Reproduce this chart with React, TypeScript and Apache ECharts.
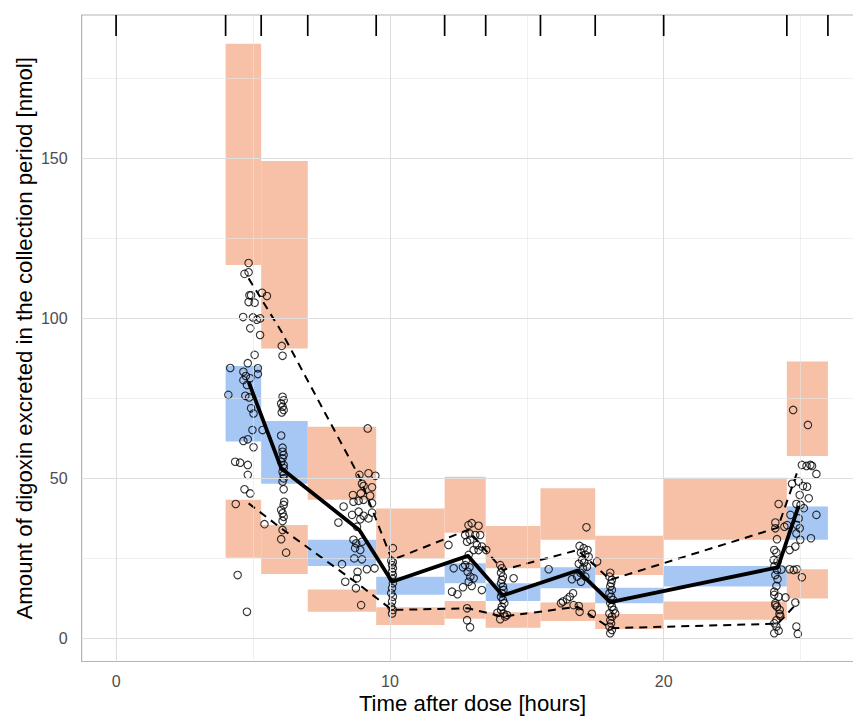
import React, { useEffect, useRef } from "react";
import * as echarts from "echarts";

// Bin boundaries (top rug ticks)
const binEdges = [0, 4, 5.3, 7, 9.5, 12, 13.5, 15.5, 17.5, 20, 24.5, 26];
const binStart = [4, 5.3, 7, 9.5, 12, 13.5, 15.5, 17.5, 20, 24.5];
const binEnd = [5.3, 7, 9.5, 12, 13.5, 15.5, 17.5, 20, 24.5, 26];

// Simulated prediction intervals
const upperPiHigh = [185.8, 149.2, 66.1, 40.6, 50.5, 35.1, 46.9, 32.1, 50.2, 86.5];
const upperPiLow = [116.7, 90.6, 43.3, 25.0, 33.0, 21.9, 30.8, 19.8, 30.8, 57.0];
const medianPiHigh = [85.1, 67.9, 30.8, 19.3, 23.5, 17.2, 22.2, 15.8, 22.6, 41.2];
const medianPiLow = [61.5, 48.3, 22.6, 13.6, 17.2, 11.7, 15.7, 11.0, 16.2, 30.8];
const lowerPiHigh = [43.3, 35.4, 15.3, 9.7, 11.7, 8.2, 11.2, 7.6, 11.5, 21.6];
const lowerPiLow = [25.2, 20.1, 8.3, 4.2, 6.1, 3.3, 5.4, 2.9, 5.8, 12.5];

// Observed percentiles
const obsBinTime = [4.84, 6.03, 8.89, 10.08, 12.85, 14.12, 16.86, 18.05, 24.17, 24.93];
const obsMedian = [80.2, 53.2, 33.8, 17.7, 25.8, 13.4, 21.2, 11.3, 22.2, 41.4];
const obsP95 = [112.5, 96.0, 50.4, 24.5, 33.9, 21.4, 27.6, 18.3, 34.6, 53.2];
const obsP05 = [42.2, 34.4, 16.7, 8.9, 9.4, 6.8, 9.9, 3.2, 4.6, 11.5];

// Observations
const obsTime = [
  4.84, 4.69, 4.84, 4.87, 4.93, 5.33, 5.51, 4.84, 5.06, 4.64, 5.0, 5.14, 5.26, 4.9, 5.26, 5.06, 4.81, 4.17, 4.65, 5.18,
  4.74, 4.9, 5.18, 4.65, 4.78, 4.1, 4.72, 4.86, 4.93, 5.02, 4.98, 5.35, 4.65, 4.81, 5.02, 4.35, 4.53, 4.81, 4.81, 4.69,
  4.9, 4.37, 5.42, 4.44, 4.78,
  6.05, 6.08, 6.08, 6.12, 6.03, 6.08, 6.12, 6.05, 6.03, 6.08, 6.08, 6.12, 6.08, 6.03, 6.12, 6.12, 6.08, 6.12, 6.12, 6.08,
  6.12, 6.14, 6.12, 6.03, 6.08, 6.12, 6.08, 6.08, 6.03, 6.21,
  9.19, 8.89, 9.22, 9.47, 8.98, 9.04, 9.35, 8.65, 8.94, 9.28, 8.67, 8.86, 9.04, 9.35, 8.31, 8.62, 8.86, 9.04, 9.35, 8.12,
  8.92, 9.22, 8.8, 8.67, 8.77, 8.98, 8.73, 8.92, 8.7, 8.98, 9.16, 9.44, 8.25, 8.82, 8.8, 8.37, 8.76, 8.95,
  10.11, 10.05, 10.11, 10.08, 10.11, 10.08, 10.11, 10.08, 10.11, 10.08, 10.05, 10.11, 10.08, 10.05, 10.11, 10.08,
  12.14, 12.27, 12.47, 12.33, 12.67, 12.67, 12.99, 12.82, 12.93, 12.87, 12.99, 13.24, 12.75, 12.91, 13.12, 13.3, 12.82, 12.94,
  13.18, 13.36, 13.52, 13.06, 13.24, 12.88, 12.79, 12.75, 12.91, 12.84, 12.94, 13.06, 12.88, 13.36, 12.82,
  14.03, 14.09, 14.06, 14.13, 14.09, 14.06, 14.13, 14.15, 14.09, 14.06, 14.13, 14.18, 14.09, 14.06, 14.15, 14.21, 14.03, 13.93,
  14.28, 14.52,
  15.8, 17.18, 16.93, 17.08, 17.22, 16.98, 17.14, 17.26, 17.02, 17.1, 16.9, 17.2, 17.05, 16.96, 16.84, 17.14, 16.65, 16.98,
  16.69, 16.57, 16.47, 16.32, 16.25, 16.71, 16.9, 16.93, 17.38, 17.57,
  18.05, 18.02, 18.11, 18.08, 18.05, 18.11, 18.02, 18.08, 18.15, 18.05, 18.11, 18.17, 18.02, 18.11, 18.05, 18.08, 18.02, 18.11,
  18.05, 18.23,
  24.2, 24.08, 24.41, 24.04, 24.12, 24.02, 24.16, 24.05, 24.14, 24.08, 24.16, 24.12, 24.04, 24.2, 24.08, 24.14, 24.24, 24.26,
  24.12, 24.04, 24.2, 24.04, 24.14, 24.45, 24.3, 24.23, 24.12, 24.08, 24.04, 24.08,
  24.73, 25.27, 25.05, 25.22, 25.36, 25.42, 25.58, 24.69, 24.93, 25.09, 25.24, 24.97, 25.3, 24.85, 25.0, 25.12, 24.63, 25.58,
  24.93, 24.51, 24.87, 24.97, 24.85, 24.6, 24.81, 25.38, 24.99, 24.6, 24.75, 24.87, 25.05, 24.81, 24.85, 24.9,
];
const obsAmount = [
  117.3, 113.9, 114.4, 107.2, 107.2, 108.0, 107.0, 105.1, 104.9, 100.4, 100.3, 99.6, 100.0, 96.9, 94.8, 88.6, 86.0, 84.5, 83.3, 84.4,
  82.0, 81.3, 82.6, 80.7, 79.2, 76.1, 75.8, 75.3, 71.9, 70.3, 65.1, 65.1, 61.7, 62.2, 59.7, 55.2, 54.9, 54.2, 51.1, 46.6,
  45.3, 42.0, 35.7, 19.8, 8.3,
  91.4, 88.3, 75.5, 74.4, 73.4, 72.4, 71.4, 70.6, 63.4, 59.6, 58.3, 57.3, 56.3, 55.2, 54.2, 53.2, 52.1, 51.1, 50.0, 49.0,
  46.6, 42.7, 41.7, 40.1, 39.1, 38.0, 36.7, 33.9, 31.0, 26.8,
  65.6, 51.1, 51.6, 50.8, 48.3, 47.6, 47.2, 44.8, 45.3, 44.6, 42.7, 43.0, 43.3, 42.2, 41.2, 38.6, 39.6, 38.3, 39.3, 36.2,
  37.2, 37.5, 34.9, 30.8, 29.7, 30.2, 28.2, 27.6, 25.0, 24.7, 21.6, 21.9, 23.2, 20.8, 18.8, 17.7, 15.7, 10.4,
  28.2, 24.3, 23.8, 22.9, 21.9, 20.8, 19.8, 18.8, 17.2, 15.7, 14.1, 13.0, 11.5, 9.9, 8.9, 7.8,
  29.2, 14.6, 13.8, 21.9, 22.2, 16.0, 16.4, 5.7, 3.5, 35.4, 36.0, 35.2, 32.3, 32.8, 32.3, 32.3, 30.2, 30.8,
  29.2, 28.7, 27.6, 27.6, 27.6, 26.1, 24.5, 22.9, 22.2, 20.8, 19.3, 18.8, 17.7, 15.1, 9.4,
  22.9, 21.9, 20.5, 19.3, 18.3, 17.2, 16.2, 15.1, 14.1, 13.0, 12.0, 11.0, 9.9, 8.9, 7.8, 6.8, 6.0, 8.0,
  7.3, 18.8,
  21.6, 34.7, 28.9, 28.2, 27.6, 26.8, 26.1, 25.5, 24.5, 23.7, 23.3, 22.4, 21.9, 20.5, 19.3, 19.3, 18.5, 17.7,
  14.1, 13.0, 12.2, 11.5, 11.0, 10.4, 10.1, 8.3, 7.7, 24.0,
  20.5, 19.3, 18.3, 17.2, 16.2, 15.1, 14.1, 13.0, 12.0, 11.0, 9.9, 8.9, 7.8, 6.8, 5.7, 4.7, 3.7, 2.6,
  1.6, 7.8,
  42.0, 36.2, 34.9, 27.6, 26.8, 24.5, 24.0, 22.6, 21.4, 19.8, 18.5, 16.4, 13.6, 13.0, 11.0, 9.9, 8.9, 7.0,
  5.7, 1.6, 2.4, 4.7, 31.0, 12.8, 21.5, 7.6, 3.7, 10.4, 14.6, 34.4,
  71.4, 66.7, 54.2, 53.9, 54.2, 53.9, 51.4, 48.3, 49.0, 47.6, 47.4, 44.8, 43.8, 42.0, 41.7, 40.7, 38.6, 38.6,
  37.5, 35.4, 35.4, 34.4, 32.8, 27.6, 28.7, 31.3, 30.8, 21.6, 21.4, 21.6, 19.1, 11.2, 3.7, 1.4,
];

const xMajor = [0, 10, 20];
const xMinor = [5, 15, 25];
const yMajor = [0, 50, 100, 150];
const yMinor = [25, 75, 125, 175];

const X_MIN = -1.26;
const X_MAX = 27.3;
const Y_MIN = -7.22;
const Y_MAX = 194.8;

const PINK = "#F6C1A7";
const BLUE = "#A6C6F4";
const FONT = "'Liberation Sans', Arial, sans-serif";

function rectSeries(name: string, lo: number[], hi: number[], color: string) {
  return {
    name,
    type: "custom",
    z: 2,
    silent: true,
    encode: { x: [0, 1], y: [2, 3] },
    data: binStart.map((s, i) => [s, binEnd[i], lo[i], hi[i]]),
    renderItem: (params: any, api: any) => {
      const p0 = api.coord([api.value(0), api.value(3)]);
      const p1 = api.coord([api.value(1), api.value(2)]);
      return {
        type: "rect",
        shape: { x: p0[0], y: p0[1], width: p1[0] - p0[0], height: p1[1] - p0[1] },
        style: { fill: color },
      };
    },
  };
}

export default function App() {
  const ref = useRef<HTMLDivElement>(null);
  useEffect(() => {
    if (!ref.current) return;
    const chart = echarts.init(ref.current, undefined, { renderer: "svg" });
    const gridLineData = [
      ...xMinor.map((v) => ({ xAxis: v, lineStyle: { color: "#E6E6E6", width: 0.6 } })),
      ...yMinor.map((v) => ({ yAxis: v, lineStyle: { color: "#E6E6E6", width: 0.6 } })),
      ...xMajor.map((v) => ({ xAxis: v, lineStyle: { color: "#DEDEDE", width: 1.1 } })),
      ...yMajor.map((v) => ({ yAxis: v, lineStyle: { color: "#DEDEDE", width: 1.1 } })),
    ];
    chart.setOption({
      animation: false,
      backgroundColor: "#FFFFFF",
      textStyle: { fontFamily: FONT },
      grid: {
        left: 81.6,
        top: 15,
        width: 781.9,
        height: 646.5,
        outerBoundsMode: "none",
        containLabel: false,
        show: true,
        borderColor: "#B3B3B3",
        borderWidth: 1.2,
        backgroundColor: "transparent",
      },
      xAxis: {
        type: "value",
        min: X_MIN,
        max: X_MAX,
        name: "Time after dose [hours]",
        nameLocation: "middle",
        nameMoveOverlap: false,
        nameGap: 31,
        nameTextStyle: { fontSize: 22.2, lineHeight: 22, color: "#000000", fontFamily: FONT },
        axisLine: { show: false },
        splitLine: { show: false },
        axisTick: { show: true, length: 5, customValues: xMajor, lineStyle: { color: "#B3B3B3", width: 1.1 } },
        axisLabel: { customValues: xMajor, color: "#4D4D4D", fontSize: 16, margin: 12, fontFamily: FONT },
      },
      yAxis: {
        type: "value",
        min: Y_MIN,
        max: Y_MAX,
        name: "Amount of digoxin excreted in the collection period [nmol]",
        nameLocation: "middle",
        nameMoveOverlap: false,
        nameGap: 45,
        nameTextStyle: { fontSize: 22.2, lineHeight: 24, color: "#000000", fontFamily: FONT },
        axisLine: { show: false },
        splitLine: { show: false },
        axisTick: { show: true, length: 5, customValues: yMajor, lineStyle: { color: "#B3B3B3", width: 1.1 } },
        axisLabel: { customValues: yMajor, color: "#4D4D4D", fontSize: 16, margin: 14, fontFamily: FONT },
      },
      series: [
        {
          name: "grid",
          type: "line",
          data: [],
          z: 1,
          silent: true,
          markLine: {
            silent: true,
            symbol: ["none", "none"],
            label: { show: false },
            lineStyle: { type: "solid" },
            data: gridLineData,
            animation: false,
          },
        },
        rectSeries("upperPI", upperPiLow, upperPiHigh, PINK),
        rectSeries("medianPI", medianPiLow, medianPiHigh, BLUE),
        rectSeries("lowerPI", lowerPiLow, lowerPiHigh, PINK),
        {
          name: "obs",
          type: "scatter",
          z: 3,
          silent: true,
          symbol: "circle",
          symbolSize: 7.5,
          itemStyle: { color: "rgba(0,0,0,0)", borderColor: "#000000", borderWidth: 1.1 },
          data: obsTime.map((t, i) => [t, obsAmount[i]]),
        },
        {
          name: "p95",
          type: "line",
          z: 4,
          silent: true,
          showSymbol: false,
          symbol: "none",
          lineStyle: { color: "#000000", width: 2, type: [8, 6] },
          data: obsBinTime.map((t, i) => [t, obsP95[i]]),
        },
        {
          name: "p05",
          type: "line",
          z: 4,
          silent: true,
          showSymbol: false,
          symbol: "none",
          lineStyle: { color: "#000000", width: 2, type: [8, 6] },
          data: obsBinTime.map((t, i) => [t, obsP05[i]]),
        },
        {
          name: "median",
          type: "line",
          z: 5,
          silent: true,
          showSymbol: false,
          symbol: "none",
          lineStyle: { color: "#000000", width: 3.8, join: "round" },
          data: obsBinTime.map((t, i) => [t, obsMedian[i]]),
        },
        {
          name: "binTicks",
          type: "custom",
          z: 6,
          silent: true,
          encode: { x: 0 },
          data: binEdges.map((e) => [e]),
          renderItem: (params: any, api: any) => {
            const p = api.coord([api.value(0), Y_MAX]);
            return {
              type: "line",
              shape: { x1: p[0], y1: p[1], x2: p[0], y2: p[1] + 21 },
              style: { stroke: "#000000", lineWidth: 1.7 },
            };
          },
        },
      ],
    });
    return () => chart.dispose();
  }, []);
  return (
    <div
      ref={ref}
      style={{ position: "fixed", left: 0, top: 0, width: 853, height: 716, background: "#fff" }}
    />
  );
}
